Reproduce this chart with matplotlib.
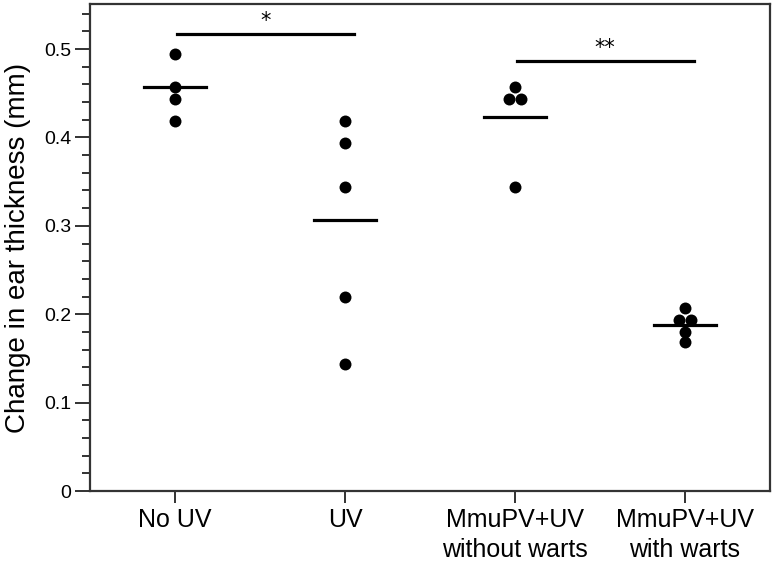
import matplotlib
matplotlib.use("Agg")
import matplotlib.pyplot as plt
import numpy as np

categories = ["No UV", "UV", "MmuPV+UV\nwithout warts", "MmuPV+UV\nwith warts"]
no_uv = [0.494, 0.457, 0.443, 0.419]
uv = [0.419, 0.394, 0.3435, 0.219, 0.144]
mmupv_no_warts = [0.457, 0.443, 0.443, 0.3435]
mmupv_warts = [0.2066, 0.1934, 0.1934, 0.180, 0.169]
means = [0.457, 0.307, 0.423, 0.188]
groups = [no_uv, uv, mmupv_no_warts, mmupv_warts]
sig_pairs = [(0, 1), (2, 3)]
sig_heights = [0.517, 0.486]
sig_labels = ["*", "**"]

FAM = ['Liberation Sans', 'DejaVu Sans']
plt.rcParams['font.family'] = FAM

fig = plt.figure(figsize=(7.75, 5.68), dpi=100)
ax = fig.add_axes([90/775, 77/568, 680/775, 487/568])

dodge = 0.033
for i, vals in enumerate(groups):
    vals = np.array(vals)
    xs = np.full(len(vals), float(i))
    for v in np.unique(vals):
        idx = np.where(vals == v)[0]
        if len(idx) > 1:
            offs = np.linspace(-dodge, dodge, len(idx))
            xs[idx] = i + offs
    ax.plot(xs, vals, 'o', color='black', ms=8.6, mew=0, zorder=3)
    ax.plot([i - 0.18, i + 0.18], [means[i], means[i]], color='black', lw=2.3, zorder=4)

for (a, b), h, lab in zip(sig_pairs, sig_heights, sig_labels):
    ax.plot([a + 0.01, b + 0.05], [h, h], color='black', lw=2.3)
    ax.text((a + b) / 2 + 0.03, h + 0.004, lab, ha='center', va='bottom', fontsize=15,
            family=['DejaVu Sans'])

ax.set_xlim(-0.5, 3.5)
ax.set_ylim(0, 0.551)
ax.set_xticks(range(len(categories)))
ax.set_xticklabels(categories, fontsize=18, linespacing=1.3)
ax.set_yticks([0, 0.1, 0.2, 0.3, 0.4, 0.5])
ax.set_yticklabels(["0", "0.1", "0.2", "0.3", "0.4", "0.5"], fontsize=14)
ax.set_yticks(np.arange(0, 0.551, 0.02), minor=True)
ax.tick_params(axis='y', which='major', length=10.5, width=1.3, pad=3, color='#222222')
ax.tick_params(axis='y', which='minor', length=6, width=1.3, color='#222222')
ax.tick_params(axis='x', which='major', length=8.5, width=1.3, pad=4, color='#222222')
ax.set_ylabel("Change in ear thickness (mm)", fontsize=20, labelpad=9)
for s in ax.spines.values():
    s.set_linewidth(1.6)
    s.set_color('#333333')

fig.savefig("out.png", dpi=100)
